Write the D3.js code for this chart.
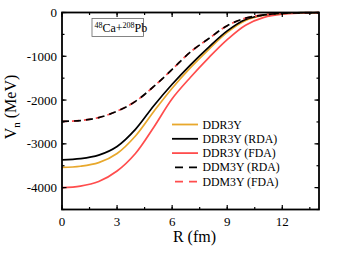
<!DOCTYPE html>
<html>
<head>
<meta charset="utf-8">
<title>Vn vs R</title>
<script src="https://d3js.org/d3.v7.min.js"></script>
<style>
  body { margin: 0; background: #fff; }
  svg text { font-family: "Liberation Serif", "Times New Roman", serif; fill: #000; }
</style>
</head>
<body>
<div id="chart"></div>
<script>
// radius grid (fm)
const rVals = [0, 1, 2, 3, 4, 5, 6, 7, 8, 9, 10, 11, 12, 13, 14];
// potentials (MeV)
const ddr3y     = [-3540, -3512, -3430, -3220, -2820, -2260, -1730, -1260, -840, -455, -180, -62, -18, -5, -2];
const ddr3yRDA  = [-3365, -3338, -3258, -3060, -2670, -2130, -1640, -1195, -790, -420, -160, -55, -16, -5, -2];
const ddr3yFDA  = [-4000, -3965, -3860, -3620, -3220, -2620, -1970, -1480, -1030, -620, -290, -110, -35, -10, -3];
const ddm3yRDA  = [-2488, -2468, -2400, -2255, -2030, -1690, -1300, -900, -595, -300, -130, -55, -20, -6, -2];
const ddm3yFDA  = [-2488, -2468, -2400, -2255, -2030, -1690, -1300, -900, -595, -300, -130, -55, -20, -6, -2];
const xTicks = [0, 3, 6, 9, 12];
const yTicks = [-4000, -3000, -2000, -1000, 0];

const series = [
  { name: "DDR3Y (FDA)", values: ddr3yFDA, color: "#ff4d4d", dash: null },
  { name: "DDR3Y", values: ddr3y, color: "#e8a82c", dash: null },
  { name: "DDR3Y (RDA)", values: ddr3yRDA, color: "#000", dash: null },
  { name: "DDM3Y (FDA)", values: ddm3yFDA, color: "#ff4d4d", dash: "7,5", offset: 2 },
  { name: "DDM3Y (RDA)", values: ddm3yRDA, color: "#000", dash: "7,5", offset: 0 }
];
const legendOrder = ["DDR3Y", "DDR3Y (RDA)", "DDR3Y (FDA)", "DDM3Y (RDA)", "DDM3Y (FDA)"];

const W = 343, H = 263;
const m = { left: 62, right: 24, top: 12.5, bottom: 53.5 };
const w = W - m.left - m.right, h = H - m.top - m.bottom;

const svg = d3.select("#chart").append("svg").attr("width", W).attr("height", H);
const g = svg.append("g").attr("transform", `translate(${m.left},${m.top})`);

const x = d3.scaleLinear().domain([0, 14]).range([0, w]);
const y = d3.scaleLinear().domain([-4500, 0]).range([h, 0]);

// curves
const line = d3.line().x((d, i) => x(rVals[i])).y(d => y(d)).curve(d3.curveCatmullRom.alpha(0.5));
g.append("defs").append("clipPath").attr("id", "clip")
  .append("rect").attr("width", w).attr("height", h + 1).attr("y", -1);
series.forEach(s => {
  g.append("path").datum(s.values)
    .attr("clip-path", "url(#clip)")
    .attr("d", line)
    .attr("fill", "none")
    .attr("stroke", s.color)
    .attr("stroke-width", 1.7)
    .attr("stroke-dasharray", s.dash)
    .attr("stroke-dashoffset", s.offset || 0);
});

// ticks (inward) on all four sides
const minorX = d3.range(0, 14.01, 1.5), minorY = d3.range(-4500, 1, 500);
function tickSet(vals, len, isX, side) {
  vals.forEach(v => {
    if (isX) {
      const px = x(v), y0 = side === "bottom" ? h : 0, dir = side === "bottom" ? -1 : 1;
      g.append("line").attr("x1", px).attr("x2", px).attr("y1", y0).attr("y2", y0 + dir * len)
        .attr("stroke", "#000").attr("stroke-width", 1.2);
    } else {
      const py = y(v), x0 = side === "left" ? 0 : w, dir = side === "left" ? 1 : -1;
      g.append("line").attr("y1", py).attr("y2", py).attr("x1", x0).attr("x2", x0 + dir * len)
        .attr("stroke", "#000").attr("stroke-width", 1.2);
    }
  });
}
tickSet(minorX, 2.5, true, "bottom"); tickSet(minorX, 2.5, true, "top");
tickSet(xTicks, 4.5, true, "bottom"); tickSet(xTicks, 4.5, true, "top");
tickSet(minorY, 2.5, false, "left"); tickSet(minorY, 2.5, false, "right");
tickSet(yTicks, 4.5, false, "left"); tickSet(yTicks, 4.5, false, "right");

g.append("rect").attr("width", w).attr("height", h)
  .attr("fill", "none").attr("stroke", "#000").attr("stroke-width", 1.8);

// tick labels
g.selectAll(".xl").data(xTicks).enter().append("text")
  .attr("x", d => x(d)).attr("y", h + 16).attr("text-anchor", "middle")
  .attr("font-size", 13).text(d => d);
g.selectAll(".yl").data(yTicks).enter().append("text")
  .attr("x", -5).attr("y", d => y(d) + 4.5).attr("text-anchor", "end")
  .attr("font-size", 13).text(d => d === 0 ? "0" : "-" + Math.abs(d));

// axis titles
svg.append("text").attr("x", m.left + w / 2 + 4).attr("y", 242)
  .attr("text-anchor", "middle").attr("font-size", 16).text("R (fm)");
const yt = svg.append("text").attr("transform", "translate(16,107) rotate(-90)")
  .attr("text-anchor", "middle").attr("font-size", 16);
yt.append("tspan").text("V");
yt.append("tspan").attr("font-size", 11).attr("dy", 4).text("n");
yt.append("tspan").attr("dy", -4).text(" (MeV)");

// reaction label box
svg.append("rect").attr("x", 92).attr("y", 18.5).attr("width", 51.5).attr("height", 18)
  .attr("fill", "#fff").attr("stroke", "#666").attr("stroke-width", 0.8);
const rl = svg.append("text").attr("x", 94.5).attr("y", 32).attr("font-size", 12);
rl.append("tspan").attr("font-size", 8).attr("dy", -4).text("48");
rl.append("tspan").attr("dy", 4).text("Ca+");
rl.append("tspan").attr("font-size", 8).attr("dy", -4).text("208");
rl.append("tspan").attr("dy", 4).text("Pb");

// legend
legendOrder.forEach((name, i) => {
  const s = series.find(d => d.name === name);
  const ly = 124.5 + i * 14.3;
  svg.append("line").attr("x1", 172).attr("x2", 198).attr("y1", ly).attr("y2", ly)
    .attr("stroke", s.color).attr("stroke-width", 1.8)
    .attr("stroke-dasharray", s.dash ? "8,6" : null).attr("stroke-dashoffset", s.dash ? -3 : 0);
  svg.append("text").attr("x", 202.5).attr("y", ly + 4).attr("font-size", 11.8).text(name);
});
</script>
</body>
</html>
